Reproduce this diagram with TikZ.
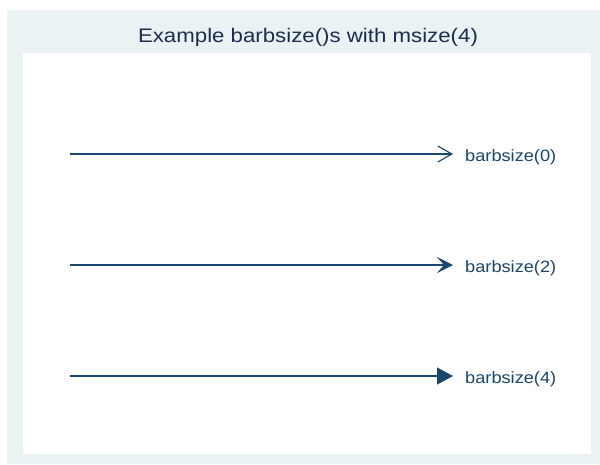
\documentclass[tikz,border=0pt]{standalone}
\usepackage{fontspec}
\setmainfont{Liberation Sans}
\usetikzlibrary{arrows.meta}
\definecolor{panel}{HTML}{EAF2F3}
\definecolor{navy}{HTML}{1A476F}
\definecolor{titlec}{HTML}{1E2D4F}
\tikzset{
  barline/.style={draw=navy, line width=1.15pt},
  barlabel/.style={anchor=base west, inner sep=0pt, text=navy, font=\fontsize{16.4}{18}\selectfont},
  titlelabel/.style={anchor=base, inner sep=0pt, text=titlec, font=\fontsize{19.6}{21}\selectfont}
}
\begin{document}
\begin{tikzpicture}[x=1pt,y=-1pt]
\useasboundingbox (0,0) rectangle (600,464);
\fill[white] (0,0) rectangle (600,464);
\fill[panel] (7,10) rectangle (600,464);
\fill[white] (23,53) rectangle (591,454);
\node[titlelabel] (title) at (308,42.5) {\scalebox{1.135}[1]{Example barbsize()s with msize(4)}};
\coordinate (s0) at (70,154);
\coordinate (e0) at (453,154);
\coordinate (s2) at (70,265);
\coordinate (e2) at (453,265);
\coordinate (s4) at (70,376);
\coordinate (e4) at (453,376);
\draw[barline, -{Straight Barb[length=14pt,width=16pt,line width=1.15pt]}] (s0) -- (e0);
\draw[barline, -{Stealth[length=16pt,width=16pt,inset=7pt]}] (s2) -- (e2);
\draw[barline, -{Triangle[length=16pt,width=17pt]}] (s4) -- (e4);
\node[barlabel] (l0) at (465,161) {\scalebox{1.11}[1]{barbsize(0)}};
\node[barlabel] (l2) at (465,272) {\scalebox{1.11}[1]{barbsize(2)}};
\node[barlabel] (l4) at (465,383) {\scalebox{1.11}[1]{barbsize(4)}};
\end{tikzpicture}
\end{document}
